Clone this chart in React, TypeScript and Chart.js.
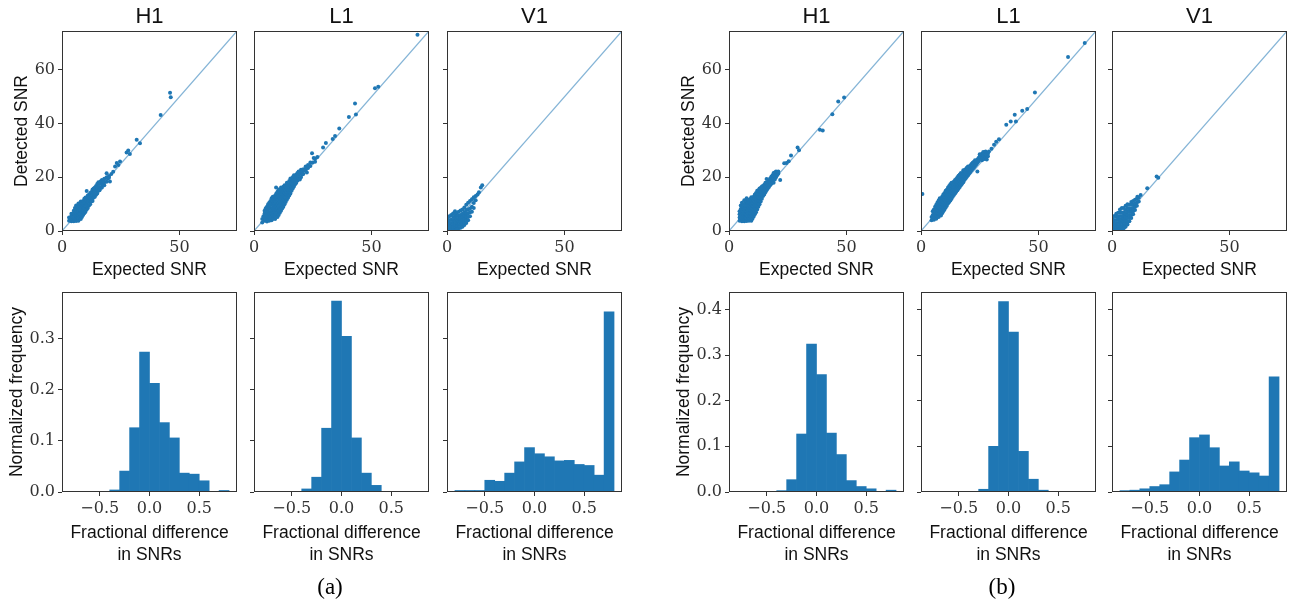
import React, { useEffect, useRef } from 'react';
import { Chart, registerables } from 'chart.js';

Chart.register(...registerables);

// ---------- axis ranges & ticks ----------
const SNR_MAX = 74.5;
const FRAC_MIN = -0.88;
const FRAC_MAX = 0.88;
const FREQ_MAX_A = 0.392;
const FREQ_MAX_B = 0.438;
const snrXTicks = [0, 50];
const snrYTicks = [0, 20, 40, 60];
const fracXTicks = [-0.5, 0, 0.5];
const freqTicksA = [0, 0.1, 0.2, 0.3];
const freqTicksB = [0, 0.1, 0.2, 0.3, 0.4];
const detectors = ['H1', 'L1', 'V1'];

// ---------- histogram data (normalized frequency per 0.1-wide bin) ----------
const binCenters = [-0.75, -0.65, -0.55, -0.45, -0.35, -0.25, -0.15, -0.05, 0.05, 0.15, 0.25, 0.35, 0.45, 0.55, 0.65, 0.75];
const histA_H1 = [0, 0, 0, 0, 0.004, 0.041, 0.126, 0.274, 0.213, 0.136, 0.106, 0.037, 0.035, 0.022, 0, 0.003];
const histA_L1 = [0, 0, 0, 0.001, 0.006, 0.029, 0.125, 0.374, 0.305, 0.106, 0.037, 0.013, 0.001, 0.001, 0, 0];
const histA_V1 = [0.003, 0.003, 0.003, 0.023, 0.021, 0.037, 0.059, 0.087, 0.075, 0.069, 0.061, 0.062, 0.054, 0.052, 0.033, 0.353];
const histB_H1 = [0, 0, 0, 0, 0.003, 0.027, 0.127, 0.324, 0.257, 0.129, 0.082, 0.025, 0.012, 0.007, 0, 0.004];
const histB_L1 = [0.0015, 0, 0, 0, 0, 0.006, 0.1, 0.417, 0.35, 0.089, 0.028, 0.004, 0, 0, 0, 0];
const histB_V1 = [0.003, 0.004, 0.007, 0.012, 0.016, 0.044, 0.07, 0.119, 0.125, 0.097, 0.057, 0.066, 0.046, 0.042, 0.035, 0.252];

// ---------- scatter data: [expected SNR, [detected SNRs...]] ----------
type Rows = [number, number[]][];
const scatterA_H1: Rows = [
  [3, [3.8, 5]], [3.5, [4.5]], [4, [3.6, 4.6, 5.6, 6.4]], [4.5, [4, 5.2]], [5, [3.6, 4.5, 5.5, 6.5, 7.5]],
  [5.5, [4.2, 6, 8.6]], [6, [3.7, 4.8, 5.8, 6.8, 7.8, 9.5]], [6.5, [4.3, 5.4, 7.3, 8.8]],
  [7, [3.8, 4.8, 6, 7, 8, 9, 10.2]], [7.5, [5.5, 6.5, 8.5, 9.6]], [8, [4.5, 5.5, 6.6, 7.6, 8.7, 9.8, 11]],
  [8.5, [5.2, 7.2, 9.3, 10.5]], [9, [6, 7, 8, 9, 10, 11.2]], [9.5, [6.6, 8.6, 10.6, 12]],
  [10, [7.2, 8.2, 9.4, 10.4, 11.5, 12.5]], [10.5, [8, 10, 11.8, 14.9]], [11, [8.6, 9.6, 10.8, 12, 13.2]],
  [11.5, [9.5, 11.5, 13.5]], [12, [10, 11, 12.2, 13.4, 14.2]], [12.5, [11, 12.8, 14.5]],
  [13, [11.2, 12.2, 13.3, 14.6, 15.5]], [13.5, [12.5, 14, 15.8]], [14, [12.8, 13.8, 15, 16.2]],
  [14.5, [13.5, 15.3, 16.8]], [15, [14, 15.2, 16.5, 17.5]], [15.5, [15, 16.2, 18.2]], [16, [15.2, 16.4, 17.6]],
  [16.5, [16, 18.5]], [17, [16.2, 17.4, 19]], [17.5, [17.5, 18.5]], [18, [17, 18.2, 19.5]], [19, [18.3, 20, 21.5]],
  [19.5, [19.6]], [20, [20.5, 19.8]], [20.4, [18.4]], [21, [21.2]], [21.8, [22.1]], [22.6, [24]], [23.3, [25.3]],
  [24.7, [25.9]], [24, [24.6]], [27.5, [29.2]], [28.2, [30]], [28.9, [28.7]], [31.8, [34]], [33.2, [32.7]],
  [42, [43.2]], [46, [51.5]], [46.3, [49.8]],
];
const scatterA_L1: Rows = [
  [3.5, [3.2, 4.5]], [4, [5.5]], [4.5, [3.8, 5, 6.5, 7.5]], [5, [4.2, 6, 8.5]], [5.5, [3.5, 5, 6.5, 7.5, 9]],
  [6, [4.2, 5.8, 7, 8.2, 10]], [6.5, [3.8, 5, 6.5, 9, 10.5]], [7, [4.5, 5.8, 7.2, 8.4, 9.6, 11.2]],
  [7.5, [4, 5.2, 6.5, 7.8, 10.4, 12.2]], [8, [4.6, 6, 7.2, 8.6, 9.8, 11, 12.8]], [8.5, [5.2, 6.6, 8, 9.2, 10.6, 12]],
  [9, [4.5, 5.8, 7.2, 8.6, 10, 11.4, 13.2]], [9.5, [6.4, 7.8, 9.2, 10.6, 12.4, 14]],
  [10, [5.2, 7, 8.4, 9.8, 11.2, 12.6, 14.6]], [10.5, [6, 7.6, 9, 10.4, 11.8, 13.4, 15.5]],
  [11, [6.8, 8.2, 9.6, 11, 12.4, 13.8, 14.8]], [11.5, [7.5, 9, 10.4, 11.8, 13.2, 15, 16.2]],
  [12, [8.4, 9.8, 11.2, 12.6, 14, 15.4]], [12.5, [9, 10.5, 12, 13.4, 14.8, 16.5]],
  [13, [10, 11.4, 12.8, 14.2, 15.6, 17]], [13.5, [10.8, 12.4, 13.8, 15.2, 16.6]],
  [14, [11.6, 13, 14.4, 15.8, 17.2, 18]], [14.5, [12.4, 14, 15.4, 16.8]], [15, [13.2, 14.6, 16, 17.4, 18.6]],
  [15.5, [14, 15.4, 17, 18.4, 19.6]], [16, [15, 16.4, 17.8, 19.2]], [16.5, [15.8, 17.2, 18.6, 20]],
  [17, [16.6, 18, 19.4, 20.8]], [17.5, [17.4, 18.8, 20.2]], [18, [18, 19.4, 21]], [18.5, [18.8, 20.2, 21.6]],
  [19, [19.5, 20.8, 22.2]], [19.5, [19.2, 21.4]], [20, [20, 21.5, 22.8]], [20.5, [21, 22.2]], [21, [21.2, 23]],
  [21.5, [22.5]], [22, [22.8, 24]], [22.5, [21.8]], [23, [23.5, 24.6]], [24, [24.2, 25.5]], [24.7, [29]],
  [25.4, [27.2]], [25, [25.5]], [26, [25.8, 27]], [27, [27.6]], [9.4, [16.2]], [29.4, [31.1]], [30.6, [32.8]],
  [33.5, [34.3]], [34.5, [35.4]], [36.3, [38.2]], [40.4, [42.5]], [43.4, [43.4]], [43, [47.5]],
  [51.5, [53.2]], [52.9, [53.7]], [69.6, [73.1]],
];
const scatterA_V1: Rows = [
  [0.3, [0.5, 2, 3.5, 5]], [1, [0.4, 1.5, 2.8, 4, 5.5]], [1.8, [0.5, 1.8, 3, 4.2, 6]],
  [2.6, [0.6, 1.6, 2.8, 4, 5.2, 6.5]], [3.4, [0.5, 1.5, 2.6, 3.8, 5, 6.2, 7.4]],
  [4.2, [0.8, 2, 3.2, 4.4, 5.6, 6.8]], [5, [1, 2.2, 3.4, 4.6, 5.8, 7.2]], [5.8, [1.2, 2.4, 3.6, 4.8, 6, 7.6]],
  [6.6, [1.6, 2.8, 4, 5.2, 6.4, 8]], [7.4, [2.2, 3.4, 4.6, 5.8, 7, 8.8]], [8.2, [3, 4.2, 5.4, 6.6, 7.8, 9.8]],
  [9, [4, 5.2, 6.6, 8, 10.5]], [9.8, [5.5, 7, 8.4, 11.2]], [10.6, [7.2, 9, 11.8]], [11.4, [8.6, 10.4, 12.6]],
  [12.2, [11.5, 13]], [13, [13.6]], [13.6, [14.4]], [14.4, [16.2]], [15, [17]],
];
const scatterB_H1: Rows = [
  [4.5, [3.8, 5, 6.2, 7.4]], [5, [4.4, 5.6, 6.8, 8.2, 9.5]], [5.5, [3.6, 4.8, 6, 7.2, 8.6, 10.5]],
  [6, [4, 5.2, 6.4, 7.6, 9, 10]], [6.5, [3.6, 4.6, 5.8, 7, 8.2, 9.6, 11.5]], [7, [4, 5.2, 6.4, 7.6, 8.8, 10.2]],
  [7.5, [3.7, 4.8, 6, 7.2, 8.4, 9.6, 11, 12.2]], [8, [4.2, 5.4, 6.6, 7.8, 9, 10.4, 11.6]],
  [8.5, [3.8, 5, 6.2, 7.4, 8.6, 9.8, 11.2]], [9, [4.4, 5.6, 6.8, 8, 9.2, 10.4, 11.8]],
  [9.5, [3.8, 5.2, 6.4, 7.6, 8.8, 10, 11.4, 12.6]], [10, [4.6, 5.8, 7, 8.2, 9.4, 10.6, 12]],
  [10.5, [5.4, 6.6, 7.8, 9, 10.2, 11.4, 12.8]], [11, [6.2, 7.4, 8.6, 9.8, 11, 12.2, 13.6]],
  [11.5, [7, 8.2, 9.4, 10.6, 11.8, 13, 14.2]], [12, [8, 9.2, 10.4, 11.6, 12.8, 14, 15]],
  [12.5, [9, 10.2, 11.4, 12.6, 13.8, 15.2]], [13, [10, 11.2, 12.4, 13.6, 14.8, 15.8]],
  [13.5, [11, 12.2, 13.4, 14.6, 16]], [14, [12, 13.2, 14.4, 15.6, 16.6]], [14.5, [13, 14.2, 15.4, 16.8]],
  [15, [13.6, 14.8, 16, 17.2]], [15.5, [14.4, 15.6, 16.8, 18]], [16, [15.2, 16.4, 17.6, 19.4]],
  [16.5, [15.8, 17, 18.2]], [17, [16.4, 17.6, 18.8]], [17.5, [17, 18.4, 19.6]], [18, [17.6, 19, 20.2]],
  [18.5, [18.4, 19.6, 20.8]], [19, [18, 19.4, 20.6, 21.6]], [19.5, [19.2, 20.6, 21.8]], [20, [20, 21.2, 22.2]],
  [20.5, [20.8, 21.8]], [21, [21.4, 22.2]], [21.8, [19]], [23.5, [25.2]], [24.5, [25.3]], [25.4, [26]],
  [26.4, [28.1]], [29.2, [31.1]], [29.8, [30.1]], [38.7, [37.7]], [39.9, [37.4]], [44, [43.5]],
  [46.5, [48.2]], [49, [49.7]],
];
const scatterB_L1: Rows = [
  [4.5, [4, 5.2]], [5, [4.6, 6, 7.4]], [5.5, [4.2, 5.4, 6.8, 8]], [6, [4.8, 6.2, 7.6, 9]],
  [6.5, [4.6, 5.8, 7, 8.4, 9.8]], [7, [5.4, 6.6, 7.8, 9.2, 10.6]], [7.5, [5.2, 6.4, 7.6, 8.8, 10, 11.4]],
  [8, [6, 7.2, 8.4, 9.6, 11, 12.2]], [8.5, [5.8, 7, 8.2, 9.4, 10.6, 12]], [9, [6.6, 7.8, 9, 10.2, 11.4, 12.8]],
  [9.5, [7.4, 8.6, 9.8, 11, 12.2, 13.6]], [10, [8, 9.2, 10.4, 11.6, 12.8, 14.2]],
  [10.5, [8.8, 10, 11.2, 12.4, 13.6, 15]], [11, [9.4, 10.6, 11.8, 13, 14.2, 15.4]],
  [11.5, [10.2, 11.4, 12.6, 13.8, 15, 16.2]], [12, [10.8, 12, 13.2, 14.4, 15.6, 16.8]],
  [12.5, [11.4, 12.6, 13.8, 15, 16.2, 17.4]], [13, [12, 13.2, 14.4, 15.6, 16.8, 18]],
  [13.5, [12.8, 14, 15.2, 16.4, 17.6]], [14, [13.4, 14.6, 15.8, 17, 18.4]], [14.5, [14, 15.2, 16.4, 17.6, 19]],
  [15, [14.6, 15.8, 17, 18.2, 19.4]], [15.5, [15.2, 16.4, 17.6, 18.8, 20]], [16, [15.8, 17, 18.2, 19.4, 20.6]],
  [16.5, [16.4, 17.6, 18.8, 20, 21]], [17, [17, 18.2, 19.4, 20.6, 21.6]], [17.5, [17.6, 18.8, 20, 21.2]],
  [18, [18.2, 19.4, 20.6, 21.8, 22.6]], [18.5, [19, 20.2, 21.4, 22.6]], [19, [19.6, 20.8, 22, 23]],
  [19.5, [20.2, 21.4, 22.6, 23.6]], [20, [20.8, 22, 23.2, 24]], [20.5, [21.4, 22.6, 23.8]],
  [21, [22, 23.2, 24.4]], [21.5, [22.6, 23.8, 25]], [22, [23.2, 24.4, 25.4]], [22.5, [23.6, 24.8, 25.8]],
  [23, [24.2, 25.4, 26.4]], [23.5, [24.8, 26]], [24, [22.2, 25.4, 26.6]], [24.5, [26, 27.2]],
  [25, [26.6, 27.8, 28.6]], [25.5, [27, 28.4]], [26, [26.4, 27.6, 28.8]], [26.5, [27.2, 28.4, 29.4]],
  [27, [26.8, 28, 29.2]], [27.5, [27.4, 28.6, 29.6]], [28, [26.6, 28, 29]], [28.5, [27.8, 28.8]],
  [0.6, [13.8]], [28.9, [29.6]], [30, [30.6]], [31.1, [32.1]], [32, [33.2]], [33.2, [34.2]], [36.3, [39.6]],
  [38.2, [40.8]], [39.9, [43.3]], [40.4, [40.8]], [43.1, [44.8]], [45.2, [45.4]], [48.5, [51.6]],
  [62.6, [64.8]], [69.7, [70]],
];
const scatterB_V1: Rows = [
  [0.3, [0.5, 1.8, 3.2, 4.6]], [1, [0.4, 1.5, 2.8, 4, 5.6]], [1.8, [0.5, 1.7, 2.9, 4.1, 5.4, 6.4]],
  [2.6, [0.6, 1.8, 3, 4.2, 5.4, 6.8]], [3.4, [0.8, 2, 3.2, 4.4, 5.6, 7, 8]],
  [4.2, [0.7, 1.9, 3.1, 4.3, 5.5, 6.8, 8.6]], [5, [1, 2.2, 3.4, 4.6, 5.8, 7, 8.6]],
  [5.8, [1.6, 2.8, 4, 5.2, 6.4, 7.8, 9.4]], [6.6, [2.4, 3.6, 4.8, 6, 7.2, 8.6, 10]],
  [7.4, [3.6, 4.8, 6, 7.2, 8.4, 9.8]], [8.2, [4.8, 6, 7.2, 8.4, 9.8, 10.8]], [9, [6.2, 7.4, 8.6, 9.8, 11.2]],
  [9.8, [7.8, 9, 10.2, 11.6]], [10.6, [9.4, 10.6, 12]], [11.4, [11, 12.4]],
  [10.8, [12.8]], [12.2, [13.4]], [15, [15.9]], [19, [20.3]], [19.7, [19.8]],
];

// ---------- styling ----------
const BLUE = '#1f77b4';
const DIAG = 'rgba(31,119,180,0.55)';
const SPINE = '#333';
const PLOT_W = 175;
const PLOT_H = 200;
const tickFont = { family: "'DejaVu Serif', serif", size: 16 };
const labelFont = { family: "'Liberation Sans', Arial, sans-serif", size: 17.5 };
const titleFont = { family: "'Liberation Sans', Arial, sans-serif", size: 22, weight: 'normal' as const };

type Spec = {
  kind: 'scatter' | 'hist';
  plotLeft: number;
  plotTop: number;
  first: boolean;
  title?: string;
  rows?: Rows;
  hist?: number[];
  freqMax?: number;
  freqTicks?: number[];
};

const framePlugin = {
  id: 'frame',
  afterDraw(chart: any) {
    const { ctx, chartArea } = chart;
    const l = Math.round(chartArea.left) + 0.5;
    const t = Math.round(chartArea.top) + 0.5;
    const r = Math.round(chartArea.right) - 0.5;
    const b = Math.round(chartArea.bottom) - 0.5;
    ctx.save();
    ctx.strokeStyle = SPINE;
    ctx.lineWidth = 1;
    ctx.strokeRect(l, t, r - l, b - t);
    ctx.restore();
  },
};

const fmtFrac = (v: number) => (v < 0 ? '\u2212' : '') + Math.abs(v).toFixed(1);

function geometry(spec: Spec) {
  const padL = spec.first ? 62 : 14;
  const padR = 6;
  const isTop = spec.kind === 'scatter';
  const canvasTop = spec.plotTop - 31;
  const padB = isTop ? 59 : 76;
  const w = padL + PLOT_W + padR;
  const h = 31 + PLOT_H + padB;
  return { padL, padR, padB, w, h, left: spec.plotLeft - padL, top: canvasTop };
}

function buildConfig(spec: Spec): any {
  const g = geometry(spec);
  const gridOpts = { display: true, drawOnChartArea: false, drawTicks: true, tickLength: 4, color: SPINE, lineWidth: 1, offset: false };
  const commonTicks = { font: tickFont, color: '#333', padding: 3, autoSkip: false, maxRotation: 0, minRotation: 0 };
  const setTicks = (vals: number[]) => (scale: any) => {
    scale.ticks = vals.map((v) => ({ value: v }));
  };

  if (spec.kind === 'scatter') {
    const points: { x: number; y: number }[] = [];
    (spec.rows || []).forEach(([x, ys]) => ys.forEach((y) => points.push({ x, y })));
    return {
      type: 'scatter',
      data: {
        datasets: [
          { data: points, backgroundColor: BLUE, pointRadius: 2, pointBorderWidth: 0, borderWidth: 0, clip: 0 },
          {
            data: [{ x: 0, y: 0 }, { x: SNR_MAX, y: SNR_MAX }],
            showLine: true,
            borderColor: DIAG,
            borderWidth: 1.2,
            pointRadius: 0,
            clip: 0,
          },
        ],
      },
      options: {
        animation: false,
        responsive: false,
        events: [],
        layout: { padding: { top: 3.3, left: 0, right: g.padR, bottom: 0 } },
        plugins: {
          legend: { display: false },
          tooltip: { enabled: false },
          title: {
            display: true,
            text: spec.title,
            font: titleFont,
            color: '#111',
            fullSize: false,
            padding: { top: 0, bottom: 1.3 },
          },
        },
        scales: {
          x: {
            type: 'linear',
            min: 0,
            max: SNR_MAX,
            bounds: 'data',
            afterBuildTicks: setTicks(snrXTicks),
            afterFit: (s: any) => { s.height = g.padB; },
            ticks: { ...commonTicks, callback: (v: number) => String(v) },
            grid: gridOpts,
            border: { display: false },
            title: { display: true, text: 'Expected SNR', font: labelFont, color: '#111', padding: { top: 0, bottom: 9 } },
          },
          y: {
            type: 'linear',
            min: 0,
            max: SNR_MAX,
            bounds: 'data',
            afterBuildTicks: setTicks(snrYTicks),
            afterFit: (s: any) => { s.width = g.padL; },
            ticks: { ...commonTicks, callback: (v: number) => (spec.first ? String(v) : '') },
            grid: gridOpts,
            border: { display: false },
            title: { display: spec.first, text: 'Detected SNR', font: labelFont, color: '#111', padding: { top: 12, bottom: 0 } },
          },
        },
      },
      plugins: [framePlugin],
    };
  }

  const vals = spec.hist || [];
  return {
    type: 'bar',
    data: {
      datasets: [
        {
          data: binCenters.map((c, i) => ({ x: c, y: vals[i] })),
          backgroundColor: BLUE,
          borderWidth: 0,
          barPercentage: 1,
          categoryPercentage: 1,
          clip: 0,
        },
      ],
    },
    options: {
      animation: false,
      responsive: false,
      events: [],
      layout: { padding: { top: 31, left: 0, right: g.padR, bottom: 0 } },
      plugins: { legend: { display: false }, tooltip: { enabled: false } },
      scales: {
        x: {
          type: 'linear',
          min: FRAC_MIN,
          max: FRAC_MAX,
          bounds: 'data',
          offset: false,
          afterBuildTicks: setTicks(fracXTicks),
          afterFit: (s: any) => { s.height = g.padB; },
          ticks: { ...commonTicks, callback: (v: number) => fmtFrac(v) },
          grid: gridOpts,
          border: { display: false },
          title: {
            display: true,
            text: ['Fractional difference', 'in SNRs'],
            font: { ...labelFont, lineHeight: 22 / 17.5 },
            color: '#111',
            padding: { top: 0, bottom: 2 },
          },
        },
        y: {
          type: 'linear',
          min: 0,
          max: spec.freqMax,
          bounds: 'data',
          afterBuildTicks: setTicks(spec.freqTicks || []),
          afterFit: (s: any) => { s.width = g.padL; },
          ticks: { ...commonTicks, callback: (v: number) => (spec.first ? v.toFixed(1) : '') },
          grid: gridOpts,
          border: { display: false },
          title: { display: spec.first, text: 'Normalized frequency', font: labelFont, color: '#111', padding: { top: 7, bottom: 0 } },
        },
      },
    },
    plugins: [framePlugin],
  };
}

function Panel({ spec }: { spec: Spec }) {
  const ref = useRef<HTMLCanvasElement>(null);
  const g = geometry(spec);
  useEffect(() => {
    const chart = new Chart(ref.current as HTMLCanvasElement, buildConfig(spec));
    return () => chart.destroy();
  }, []);
  return (
    <canvas
      ref={ref}
      width={g.w}
      height={g.h}
      style={{ position: 'absolute', left: g.left, top: g.top, width: g.w, height: g.h }}
    />
  );
}

const lefts = [[62, 254, 447], [729, 921, 1112]];
const scatterSets = [[scatterA_H1, scatterA_L1, scatterA_V1], [scatterB_H1, scatterB_L1, scatterB_V1]];
const histSets = [[histA_H1, histA_L1, histA_V1], [histB_H1, histB_L1, histB_V1]];
const freqMaxes = [FREQ_MAX_A, FREQ_MAX_B];
const freqTickSets = [freqTicksA, freqTicksB];
const captions = ['(a)', '(b)'];
const captionCenters = [330, 1002];

export default function App() {
  const specs: Spec[] = [];
  for (let grp = 0; grp < 2; grp++) {
    for (let d = 0; d < 3; d++) {
      specs.push({ kind: 'scatter', plotLeft: lefts[grp][d], plotTop: 31, first: d === 0, title: detectors[d], rows: scatterSets[grp][d] });
      specs.push({
        kind: 'hist',
        plotLeft: lefts[grp][d],
        plotTop: 292,
        first: d === 0,
        hist: histSets[grp][d],
        freqMax: freqMaxes[grp],
        freqTicks: freqTickSets[grp],
      });
    }
  }
  return (
    <div style={{ position: 'absolute', left: 0, top: 0, width: 1294, height: 607, background: '#fff', overflow: 'hidden' }}>
      {specs.map((s, i) => (
        <Panel key={i} spec={s} />
      ))}
      {captions.map((c, i) => (
        <div
          key={c}
          style={{
            position: 'absolute',
            left: captionCenters[i] - 50,
            top: 575,
            width: 100,
            textAlign: 'center',
            fontFamily: "'Liberation Serif', 'Times New Roman', serif",
            fontSize: 23,
            lineHeight: '24px',
            color: '#000',
          }}
        >
          {c}
        </div>
      ))}
    </div>
  );
}
